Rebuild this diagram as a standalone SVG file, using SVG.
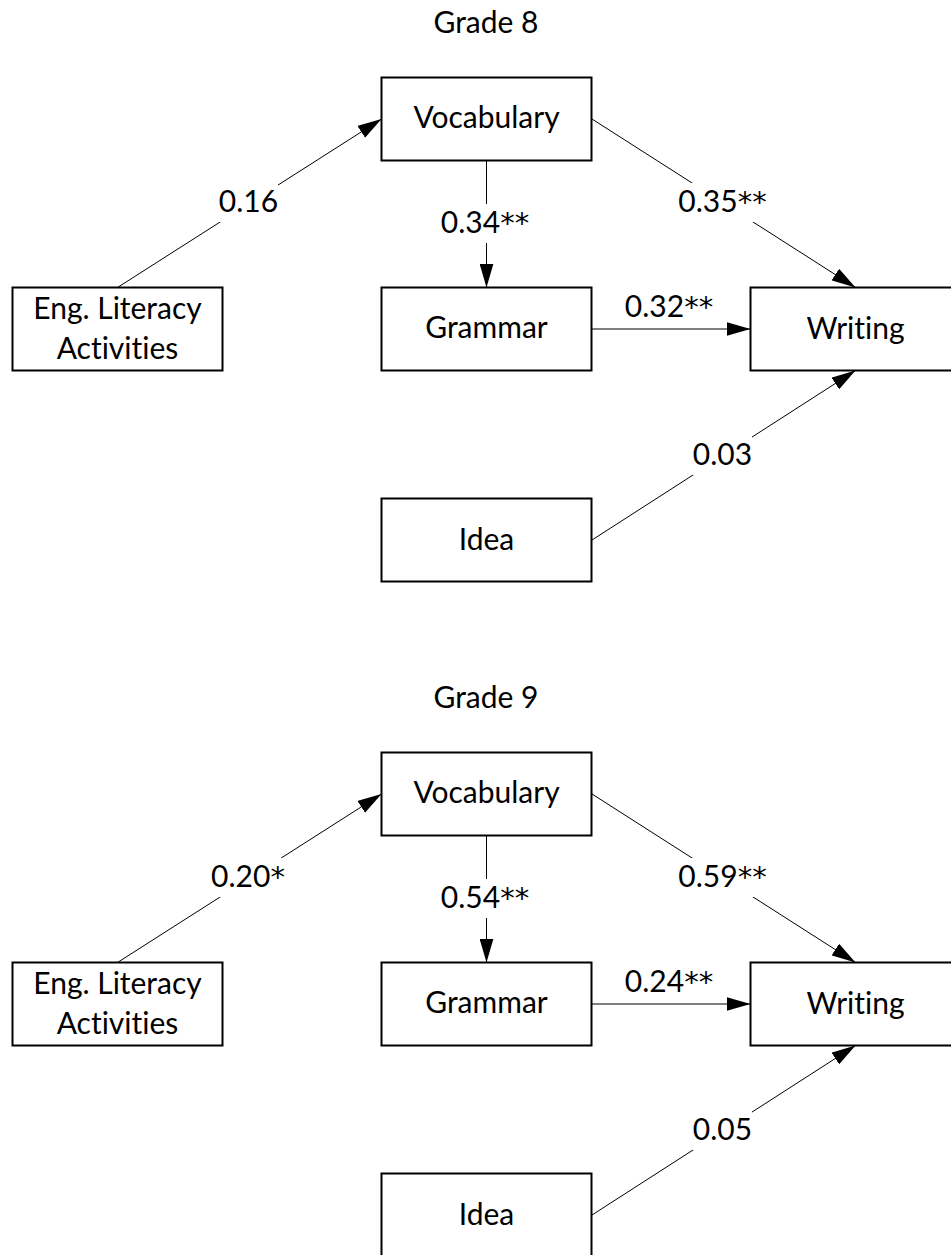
<svg xmlns="http://www.w3.org/2000/svg" width="951" height="1255" viewBox="0 0 951 1255">
<defs>
<marker id="arr" markerUnits="userSpaceOnUse" markerWidth="24" markerHeight="14" refX="24" refY="7" orient="auto">
<path d="M0,0 L24,7 L0,14 z" fill="#000"/>
</marker>
<style>
text{font-family:Lato,"Liberation Sans",sans-serif;font-size:30px;fill:#000;text-anchor:middle;font-variant-ligatures:none}
.ast{font-family:"DejaVu Sans",sans-serif;font-size:29px}
.box{fill:#fff;stroke:#000;stroke-width:2}
.edge{stroke:#000;stroke-width:1;fill:none;marker-end:url(#arr)}
.lbg{fill:#fff}
</style>
</defs>
<rect width="951" height="1255" fill="#fff"/>

<g id="grade8">
<text id="title8" x="486" y="33">Grade 8</text>
<g id="connectors8">
<line class="edge" x1="117.5" y1="287.5" x2="381.5" y2="119"/>
<line class="edge" x1="486.5" y1="160.5" x2="486.5" y2="287.5"/>
<line class="edge" x1="592" y1="119" x2="855.5" y2="287.5"/>
<line class="edge" x1="592" y1="329" x2="750.5" y2="329"/>
<line class="edge" x1="592" y1="540" x2="855.5" y2="370.5"/>
<rect class="lbg" x="219" y="183" width="59" height="39"/>
<text x="248.5" y="212">0.16</text>
<rect class="lbg" x="440" y="204" width="90" height="39"/>
<text x="485" y="233">0.34<tspan class="ast">**</tspan></text>
<rect class="lbg" x="677" y="183" width="91" height="39"/>
<text x="722.5" y="212">0.35<tspan class="ast">**</tspan></text>
<text x="669" y="317">0.32<tspan class="ast">**</tspan></text>
<rect class="lbg" x="693" y="436" width="59" height="39"/>
<text x="722.5" y="465">0.03</text>
</g>
<g id="eng8"><rect class="box" x="12.5" y="287.5" width="210" height="83"/><text x="117.5" y="319">Eng. Literacy</text><text x="117.5" y="359">Activities</text></g>
<g id="vocab8"><rect class="box" x="381.5" y="77.5" width="210" height="83"/><text x="486.5" y="128">Vocabulary</text></g>
<g id="grammar8"><rect class="box" x="381.5" y="287.5" width="210" height="83"/><text x="486.5" y="338">Grammar</text></g>
<g id="writing8"><rect class="box" x="750.5" y="287.5" width="210" height="83"/><text x="855.5" y="339">Writing</text></g>
<g id="idea8"><rect class="box" x="381.5" y="498.5" width="210" height="83"/><text x="486.5" y="550">Idea</text></g>
</g>

<g id="grade9" transform="translate(0,675)">
<text id="title9" x="486" y="33">Grade 9</text>
<g id="connectors9">
<line class="edge" x1="117.5" y1="287.5" x2="381.5" y2="119"/>
<line class="edge" x1="486.5" y1="160.5" x2="486.5" y2="287.5"/>
<line class="edge" x1="592" y1="119" x2="855.5" y2="287.5"/>
<line class="edge" x1="592" y1="329" x2="750.5" y2="329"/>
<line class="edge" x1="592" y1="540" x2="855.5" y2="370.5"/>
<rect class="lbg" x="211" y="183" width="73" height="39"/>
<text x="248" y="212">0.20<tspan class="ast">*</tspan></text>
<rect class="lbg" x="440" y="204" width="90" height="39"/>
<text x="485" y="233">0.54<tspan class="ast">**</tspan></text>
<rect class="lbg" x="677" y="183" width="91" height="39"/>
<text x="722.5" y="212">0.59<tspan class="ast">**</tspan></text>
<text x="669" y="317">0.24<tspan class="ast">**</tspan></text>
<rect class="lbg" x="693" y="436" width="59" height="39"/>
<text x="722.5" y="465">0.05</text>
</g>
<g id="eng9"><rect class="box" x="12.5" y="287.5" width="210" height="83"/><text x="117.5" y="319">Eng. Literacy</text><text x="117.5" y="359">Activities</text></g>
<g id="vocab9"><rect class="box" x="381.5" y="77.5" width="210" height="83"/><text x="486.5" y="128">Vocabulary</text></g>
<g id="grammar9"><rect class="box" x="381.5" y="287.5" width="210" height="83"/><text x="486.5" y="338">Grammar</text></g>
<g id="writing9"><rect class="box" x="750.5" y="287.5" width="210" height="83"/><text x="855.5" y="339">Writing</text></g>
<g id="idea9"><rect class="box" x="381.5" y="498.5" width="210" height="83"/><text x="486.5" y="550">Idea</text></g>
</g>
</svg>
